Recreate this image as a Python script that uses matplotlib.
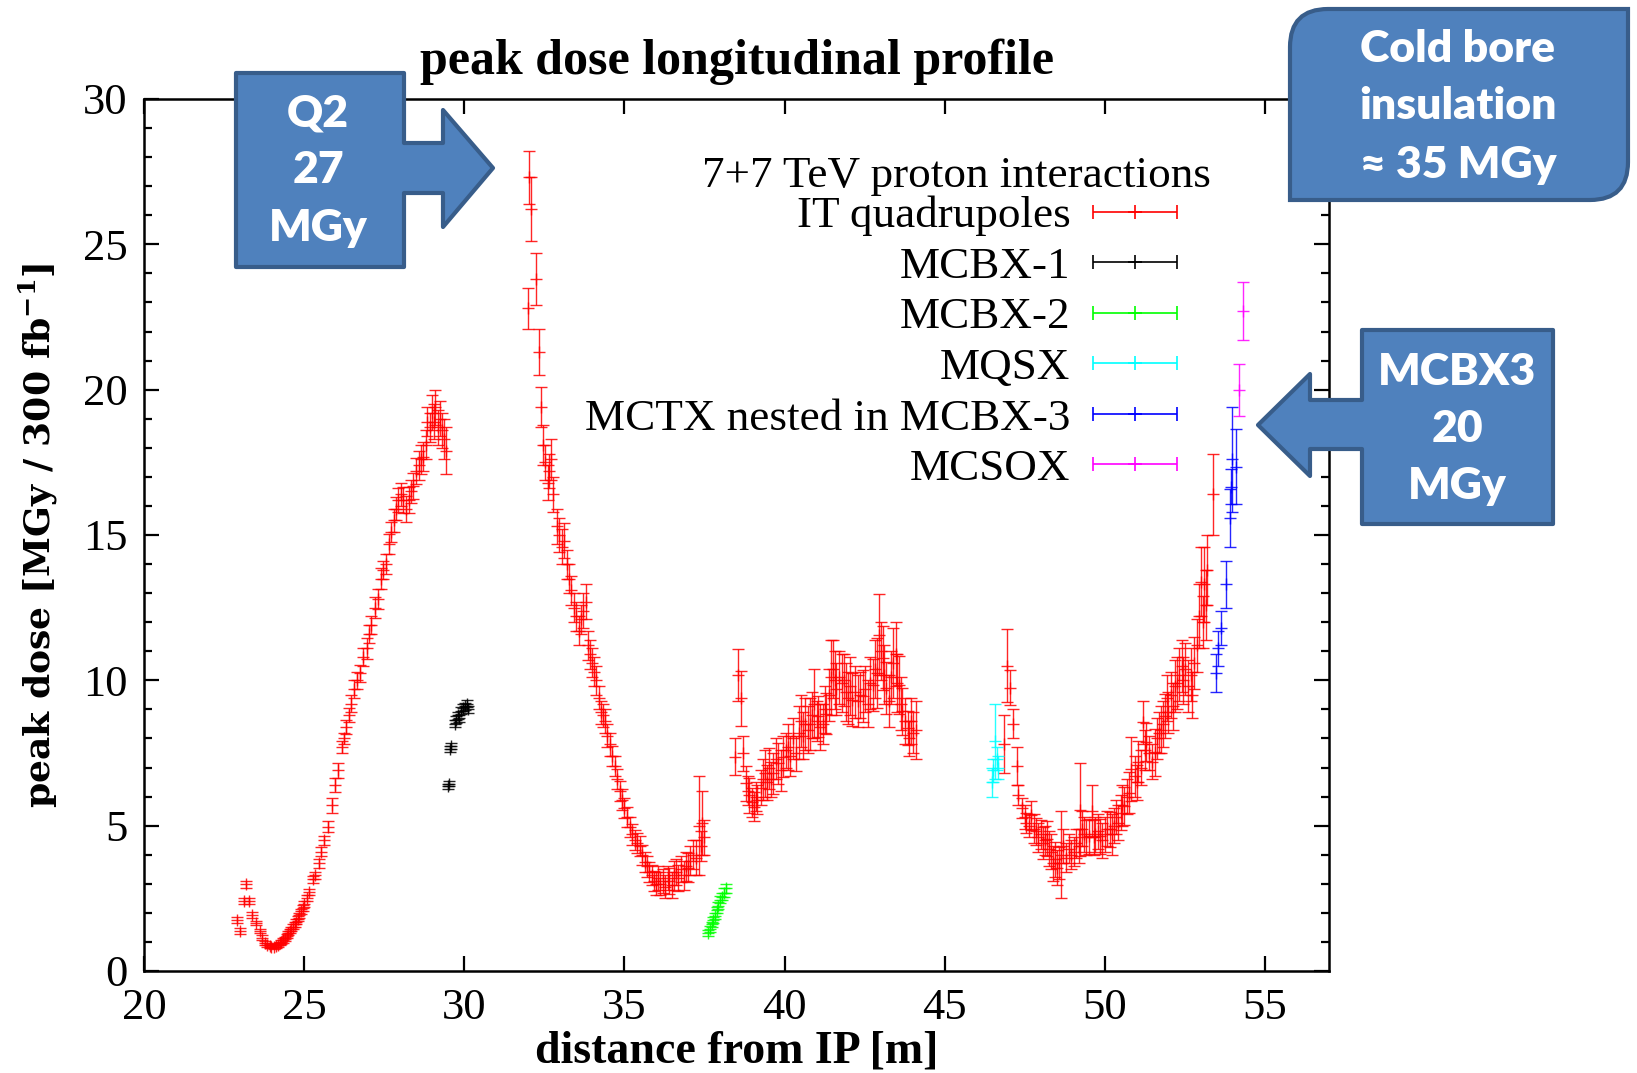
import numpy as np
import matplotlib
matplotlib.use('Agg')
import matplotlib.pyplot as plt
from matplotlib.patches import Polygon, PathPatch
from matplotlib.path import Path
from matplotlib.legend_handler import HandlerErrorbar
from matplotlib.container import ErrorbarContainer
from matplotlib.ticker import MultipleLocator

plt.rcParams['mathtext.fontset'] = 'custom'
plt.rcParams['mathtext.bf'] = 'DejaVu Serif:bold'
plt.rcParams['mathtext.rm'] = 'DejaVu Serif'

# IT quadrupoles (red)
quad_x = [22.89, 22.99, 23.12, 23.18, 23.28, 23.37, 23.51, 23.61, 23.68, 23.77, 23.85, 23.92, 23.98,
          24.05, 24.12, 24.18, 24.24, 24.29, 24.35, 24.39, 24.45, 24.5, 24.55, 24.6, 24.65, 24.7, 24.75,
          24.8, 24.85, 24.9, 24.95, 25.0, 25.08, 25.16, 25.27, 25.35, 25.45, 25.54, 25.61, 25.75, 25.87,
          25.95, 26.05, 26.19, 26.24, 26.32, 26.4, 26.47, 26.57, 26.65, 26.73, 26.85, 26.96, 27.03, 27.1,
          27.2, 27.3, 27.4, 27.47, 27.55, 27.65, 27.72, 27.8, 27.87, 27.94, 28.02, 28.1, 28.18, 28.26,
          28.33, 28.4, 28.5, 28.58, 28.65, 28.72, 28.8, 28.85, 28.92, 28.98, 29.04, 29.1, 29.17, 29.24,
          29.3, 29.37, 29.43,
          31.98, 32.03, 32.08, 32.24, 32.32, 32.39, 32.47, 32.52, 32.6, 32.65, 32.72, 32.78, 32.9, 32.96,
          33.04, 33.12, 33.2, 33.27, 33.33, 33.43, 33.5, 33.58, 33.63, 33.72, 33.79, 33.86, 33.93, 34.0,
          34.06, 34.12, 34.2, 34.28, 34.34, 34.39, 34.46, 34.54, 34.62, 34.7, 34.78, 34.86, 34.93, 35.0,
          35.08, 35.17, 35.25, 35.33, 35.4, 35.48, 35.56, 35.64, 35.72, 35.78, 35.85, 35.92, 36.0, 36.05,
          36.12, 36.2, 36.28, 36.35, 36.4, 36.48, 36.55, 36.6, 36.68, 36.78, 36.85, 36.92, 36.98, 37.06,
          37.14, 37.22, 37.33, 37.38, 37.42, 37.5,
          38.45, 38.55, 38.63, 38.7, 38.8, 38.85, 38.9, 38.97, 39.04, 39.1, 39.15, 39.25, 39.32, 39.4,
          39.45, 39.5, 39.58, 39.65, 39.72, 39.8, 39.88, 39.96, 40.03, 40.1, 40.18, 40.27, 40.36, 40.44,
          40.52, 40.58, 40.65, 40.72, 40.78, 40.85, 40.93, 41.0, 41.04, 41.1, 41.19, 41.25, 41.3, 41.38,
          41.45, 41.5, 41.56, 41.62, 41.7, 41.78, 41.87, 41.92, 41.97, 42.05, 42.12, 42.2, 42.28, 42.35,
          42.44, 42.52, 42.6, 42.68, 42.75, 42.82, 42.88, 42.95, 43.0, 43.06, 43.12, 43.16, 43.25, 43.31,
          43.4, 43.47, 43.52, 43.58, 43.63, 43.68, 43.75, 43.84, 43.9, 43.94, 44.02, 44.1,
          46.85, 46.96, 47.04, 47.14, 47.25, 47.3, 47.4, 47.5, 47.55, 47.62, 47.7, 47.78, 47.85, 47.92,
          48.0, 48.06, 48.12, 48.2, 48.26, 48.32, 48.38, 48.45, 48.5, 48.58, 48.62, 48.7, 48.78, 48.87,
          48.95, 49.03, 49.1, 49.2, 49.24, 49.3, 49.35, 49.42, 49.5, 49.6, 49.65, 49.7, 49.78, 49.85,
          49.92, 50.0, 50.08, 50.16, 50.24, 50.3, 50.36, 50.42, 50.5, 50.55, 50.6, 50.68, 50.77, 50.83,
          50.93, 51.0, 51.04, 51.12, 51.2, 51.25, 51.3, 51.38, 51.46, 51.56, 51.62, 51.7, 51.77, 51.82,
          51.87, 51.93, 51.98, 52.06, 52.14, 52.2, 52.24, 52.32, 52.4, 52.45, 52.5, 52.6, 52.68, 52.73,
          52.8, 52.88, 52.95, 53.0, 53.06, 53.1, 53.15, 53.2, 53.37]
quad_y = [1.75, 1.38, 2.41, 2.99, 2.41, 1.93, 1.65, 1.38, 1.15, 0.97, 0.89, 0.86, 0.84,
          0.82, 0.86, 0.9, 0.95, 1.0, 1.05, 1.1, 1.2, 1.3, 1.38, 1.45, 1.52, 1.6, 1.7,
          1.8, 1.92, 2.05, 2.18, 2.3, 2.5, 2.73, 3.15, 3.3, 3.7, 4.1, 4.5, 4.97, 5.7,
          6.4, 6.9, 7.7, 8.0, 8.4, 8.8, 9.2, 9.7, 10.0, 10.24, 10.8, 11.1, 11.6, 11.9,
          12.5, 12.8, 13.5, 13.8, 14.0, 14.7, 15.1, 15.5, 15.9, 16.2, 16.4, 16.2, 15.9, 16.2,
          16.5, 16.7, 17.2, 17.4, 17.6, 17.7, 18.1, 18.9, 18.7, 19.2, 18.9, 19.4, 18.7, 19.0,
          18.6, 18.3, 17.9,
          22.8, 27.3, 26.2, 23.8, 21.3, 19.4, 18.1, 17.5, 16.8, 17.2, 17.6, 16.4, 15.3, 15.0,
          14.6, 14.8, 14.0, 13.5, 13.1, 12.5, 12.2, 11.7, 12.1, 12.4, 12.7, 11.2, 10.9, 10.6,
          10.3, 10.0, 9.4, 8.9, 8.8, 8.6, 8.1, 7.8, 7.4, 7.05, 6.6, 6.2, 5.9, 5.6,
          5.3, 4.96, 4.7, 4.5, 4.4, 4.3, 4.0, 3.75, 3.6, 3.4, 3.3, 3.1, 3.0, 3.2,
          3.0, 3.1, 2.9, 3.2, 3.1, 2.95, 3.3, 3.4, 3.2, 3.5, 3.3, 3.6, 3.55, 3.8,
          4.0, 3.9, 5.0, 4.3, 5.1, 4.6,
          7.37, 10.18, 9.38, 7.49, 6.46, 6.2, 6.05, 5.8, 5.65, 6.0, 5.9, 6.3, 6.6, 6.8,
          6.5, 6.97, 6.6, 6.8, 7.3, 7.14, 6.9, 7.37, 7.6, 7.7, 7.4, 8.0, 7.49, 8.2,
          8.6, 8.1, 8.5, 8.3, 8.5, 8.8, 9.2, 8.6, 8.76, 8.4, 8.5, 9.0, 8.85, 9.5,
          10.1, 10.4, 10.0, 9.7, 10.1, 9.9, 10.0, 9.6, 9.4, 9.8, 9.34, 9.6, 9.3, 9.5,
          9.46, 9.7, 9.2, 9.9, 9.85, 10.4, 10.25, 11.57, 11.0, 10.77, 10.2, 9.74, 9.3, 10.1,
          10.6, 10.9, 9.9, 9.85, 9.2, 8.93, 8.6, 8.36, 8.0, 8.6, 8.2, 8.3,
          7.8, 10.5, 9.75, 8.5, 7.05, 6.05, 5.6, 5.3, 5.1, 5.0, 5.35, 4.9, 4.8, 4.6,
          4.7, 4.4, 4.5, 4.55, 4.2, 4.1, 3.7, 3.85, 3.55, 3.7, 4.0, 4.3, 3.9, 4.2,
          4.0, 4.1, 4.4, 4.3, 5.55, 4.9, 4.7, 4.6, 4.64, 5.5, 4.6, 4.7, 4.8, 4.64,
          4.5, 4.7, 4.9, 4.87, 4.7, 5.0, 5.3, 5.1, 5.45, 5.7, 5.68, 6.0, 6.14, 6.95,
          6.7, 6.5, 7.2, 7.0, 8.55, 7.6, 7.87, 7.5, 7.2, 7.52, 8.0, 8.2, 8.3, 8.5,
          8.77, 9.4, 8.9, 9.5, 9.1, 9.8, 9.9, 10.2, 10.5, 10.0, 10.4, 9.8, 10.2, 9.5,
          10.6, 11.2, 12.2, 13.4, 12.0, 13.3, 12.6, 13.8, 16.4]
quad_err = [0.1, 0.1, 0.1, 0.12, 0.1, 0.1, 0.08, 0.08, 0.08, 0.07, 0.07, 0.06, 0.06,
            0.06, 0.06, 0.06, 0.06, 0.06, 0.07, 0.07, 0.07, 0.07, 0.08, 0.08, 0.08, 0.08, 0.08,
            0.09, 0.09, 0.09, 0.1, 0.1, 0.1, 0.1, 0.12, 0.12, 0.15, 0.15, 0.15, 0.2, 0.25,
            0.25, 0.25, 0.2, 0.2, 0.25, 0.25, 0.3, 0.3, 0.3, 0.3, 0.3, 0.35, 0.3, 0.3,
            0.35, 0.35, 0.35, 0.3, 0.35, 0.35, 0.35, 0.4, 0.4, 0.4, 0.4, 0.45, 0.45, 0.45,
            0.4, 0.45, 0.45, 0.5, 0.5, 0.5, 0.5, 0.5, 0.5, 0.6, 0.6, 0.6, 0.6, 0.6,
            0.6, 0.7, 0.8,
            0.7, 0.9, 1.1, 0.9, 0.8, 0.7, 0.7, 0.6, 0.6, 0.6, 0.7, 0.6, 0.6, 0.6,
            0.6, 0.6, 0.5, 0.5, 0.5, 0.5, 0.5, 0.5, 0.5, 0.6, 0.6, 0.5, 0.5, 0.5,
            0.5, 0.5, 0.4, 0.4, 0.4, 0.4, 0.4, 0.4, 0.35, 0.35, 0.35, 0.35, 0.35, 0.35,
            0.35, 0.35, 0.35, 0.35, 0.35, 0.35, 0.35, 0.35, 0.35, 0.35, 0.35, 0.35, 0.4, 0.4,
            0.4, 0.4, 0.4, 0.4, 0.45, 0.45, 0.5, 0.45, 0.45, 0.45, 0.5, 0.5, 0.5, 0.5,
            0.5, 0.6, 1.7, 0.5, 1.1, 0.6,
            0.63, 0.9, 0.95, 0.6, 0.6, 0.5, 0.6, 0.5, 0.5, 0.5, 0.5, 0.6, 0.7, 0.8,
            0.6, 0.7, 0.6, 0.7, 0.7, 0.7, 0.7, 0.7, 0.6, 0.8, 0.7, 0.7, 0.6, 0.9,
            0.9, 0.8, 0.9, 0.8, 0.9, 0.8, 1.2, 0.7, 0.7, 0.8, 0.7, 0.8, 0.7, 0.9,
            1.3, 1.0, 1.0, 0.9, 0.9, 1.0, 0.9, 1.0, 0.9, 1.0, 0.9, 0.9, 0.9, 0.8,
            0.9, 0.8, 0.8, 0.9, 0.9, 1.0, 1.2, 1.4, 1.0, 1.1, 1.0, 0.9, 0.9, 0.9,
            1.2, 1.1, 1.0, 1.0, 0.9, 0.8, 0.8, 0.6, 0.6, 0.8, 0.7, 1.0,
            1.0, 1.25, 0.6, 0.5, 0.65, 0.35, 0.35, 0.4, 0.35, 0.4, 0.5, 0.5, 0.45, 0.5,
            0.5, 0.55, 0.5, 0.6, 0.6, 0.6, 0.6, 0.6, 0.6, 0.55, 1.5, 0.6, 0.5, 0.5,
            0.5, 0.5, 0.5, 0.6, 1.6, 0.6, 0.6, 0.6, 0.6, 0.9, 0.6, 0.6, 0.6, 0.6,
            0.6, 0.6, 0.6, 0.6, 0.7, 0.6, 0.6, 0.6, 0.6, 0.7, 0.65, 0.6, 0.7, 1.1,
            0.7, 0.6, 0.7, 0.6, 0.75, 0.7, 0.65, 0.6, 0.6, 0.8, 0.7, 0.7, 0.8, 0.8,
            0.75, 0.8, 0.7, 0.8, 0.8, 0.9, 0.9, 0.9, 0.9, 0.8, 0.9, 0.9, 0.9, 0.8,
            0.9, 0.9, 1.1, 1.2, 0.9, 1.3, 1.2, 1.2, 1.4]

# MCBX-1 (black)
mcbx1_x = [29.48, 29.52, 29.56, 29.6, 29.7, 29.75, 29.8, 29.85, 29.9, 29.95, 30.02, 30.08, 30.12]
mcbx1_y = [6.35, 6.45, 7.65, 7.75, 8.5, 8.65, 8.8, 8.7, 8.95, 9.05, 9.1, 9.2, 9.0]
mcbx1_err = [0.08, 0.08, 0.1, 0.1, 0.12, 0.12, 0.12, 0.12, 0.12, 0.12, 0.12, 0.12, 0.12]

# MCBX-2 (green)
mcbx2_x = [37.62, 37.68, 37.73, 37.78, 37.83, 37.88, 37.93, 37.98, 38.05, 38.12, 38.18]
mcbx2_y = [1.3, 1.45, 1.6, 1.75, 1.9, 2.1, 2.25, 2.45, 2.55, 2.7, 2.85]
mcbx2_err = [0.1, 0.1, 0.1, 0.1, 0.1, 0.1, 0.12, 0.12, 0.12, 0.15, 0.15]

# MQSX (cyan)
mqsx_x = [46.47, 46.5, 46.57, 46.62, 46.68]
mqsx_y = [6.5, 6.9, 7.9, 7.3, 7.0]
mqsx_err = [0.5, 0.4, 1.3, 0.4, 0.4]

# MCTX nested in MCBX-3 (blue)
mctx_x = [53.48, 53.52, 53.63, 53.79, 53.9, 53.95, 53.98, 54.1]
mctx_y = [10.24, 11.1, 11.8, 13.3, 15.57, 16.66, 17.6, 17.35]
mctx_err = [0.65, 0.6, 0.6, 0.8, 1.0, 0.6, 1.8, 1.3]

# MCSOX (magenta)
mcsox_x = [54.2, 54.31]
mcsox_y = [20.0, 22.7]
mcsox_err = [0.9, 1.0]

series = [
    ('IT quadrupoles', quad_x, quad_y, quad_err, '#ff0000'),
    ('MCBX-1', mcbx1_x, mcbx1_y, mcbx1_err, '#000000'),
    ('MCBX-2', mcbx2_x, mcbx2_y, mcbx2_err, '#00ff00'),
    ('MQSX', mqsx_x, mqsx_y, mqsx_err, '#00ffff'),
    ('MCTX nested in MCBX-3', mctx_x, mctx_y, mctx_err, '#0000ff'),
    ('MCSOX', mcsox_x, mcsox_y, mcsox_err, '#ff00ff'),
]

W, H = 1637, 1073
SERIF = 'Liberation Serif'


def fig_xy(px, py):
    return (px / W, 1 - py / H)


fig = plt.figure(figsize=(W / 100, H / 100), dpi=100)
ax = fig.add_axes([144 / W, 1 - 971 / H, (1329 - 144) / W, (971 - 99) / H])

handles = []
for name, x, y, e, c in series:
    ax.errorbar(x, y, yerr=e, fmt='+', color=c, ms=8, mew=1.0, elinewidth=1.0,
                capsize=4, capthick=1.0, alpha=0.85)
    # legend proxy: gnuplot style key sample |---+---|
    h = ax.errorbar([np.nan], [np.nan], xerr=[1.0], fmt='+', color=c, ms=10, mew=1.2,
                    elinewidth=1.2, capsize=5, capthick=1.2, label=name)
    handles.append(h)

ax.set_xlim(20, 57)
ax.set_ylim(0, 30)
ax.set_xticks(range(20, 56, 5))
ax.set_yticks(range(0, 31, 5))
ax.yaxis.set_minor_locator(MultipleLocator(1))
ax.tick_params(which='both', direction='in', top=True, right=True, width=1.6)
ax.tick_params(which='major', length=11, labelsize=32, pad=12)
ax.tick_params(which='minor', length=6)
for lab in ax.get_xticklabels() + ax.get_yticklabels():
    lab.set_family(SERIF)
for s in ax.spines.values():
    s.set_linewidth(1.8)

ax.set_title('peak dose longitudinal profile', fontsize=36, fontweight='bold',
             family=SERIF, pad=18)
ax.set_xlabel('distance from IP [m]', fontsize=33, fontweight='bold', family=SERIF, labelpad=2)
ax.set_ylabel(r'peak dose [MGy / 300 fb$^{\mathbf{-1}}$]', fontsize=26, fontweight='bold',
              family='DejaVu Serif', labelpad=16)

leg = ax.legend(handles=handles, loc='upper right', bbox_to_anchor=(0.872, 0.889),
                frameon=False, markerfirst=False, prop={'family': SERIF, 'size': 32.5},
                handlelength=1.87, handletextpad=0.5, labelspacing=0.22, borderpad=0,
                borderaxespad=0, numpoints=1,
                handler_map={ErrorbarContainer: HandlerErrorbar(xerr_size=0.935)})
ax.text(0.900, 0.912, '7+7 TeV proton interactions', transform=ax.transAxes, ha='right',
        va='center', fontsize=32.5, family=SERIF)

# callouts (drawn over the plot, in figure pixels)
face, edge = '#4f81bd', '#385d8a'
q2 = [(236, 73), (404, 73), (404, 143), (443, 143), (443, 110), (493, 168), (443, 227),
      (443, 193), (404, 193), (404, 267), (236, 267)]
fig.add_artist(Polygon([fig_xy(*p) for p in q2], closed=True, fc=face, ec=edge, lw=3,
                       joinstyle='round', transform=fig.transFigure))
mc = [(1362, 330), (1553, 330), (1553, 524), (1362, 524), (1362, 449), (1310, 449), (1310, 476),
      (1258, 425), (1310, 374), (1310, 400), (1362, 400)]
fig.add_artist(Polygon([fig_xy(*p) for p in mc], closed=True, fc=face, ec=edge, lw=3,
                       joinstyle='round', transform=fig.transFigure))
x0, y0, x1, y1, r = 1290, 9, 1628, 200, 38
verts = [(x0 + r, y0), (x1, y0), (x1, y1 - r), (x1, y1), (x1 - r, y1), (x0, y1), (x0, y0 + r),
         (x0, y0), (x0 + r, y0), (x0 + r, y0)]
codes = [Path.MOVETO, Path.LINETO, Path.LINETO, Path.CURVE3, Path.CURVE3, Path.LINETO,
         Path.LINETO, Path.CURVE3, Path.CURVE3, Path.CLOSEPOLY]
fig.add_artist(PathPatch(Path([fig_xy(*v) for v in verts], codes), fc=face, ec=edge, lw=3,
                         transform=fig.transFigure))

box_font = dict(color='white', fontsize=32, fontweight='heavy', family='Lato',
                ha='center', va='center')
for txt, py in zip(['Q2', '27', 'MGy'], [113, 170, 228]):
    fig.text(*fig_xy(318, py), txt, **box_font)
for txt, py in zip(['Cold bore', 'insulation', '\u2248 35 MGy'], [49, 106, 165]):
    fig.text(*fig_xy(1458, py), txt, **box_font)
for txt, py in zip(['MCBX3', '20', 'MGy'], [372, 429, 486]):
    fig.text(*fig_xy(1457, py), txt, **box_font)

fig.savefig('out.png', dpi=100)
